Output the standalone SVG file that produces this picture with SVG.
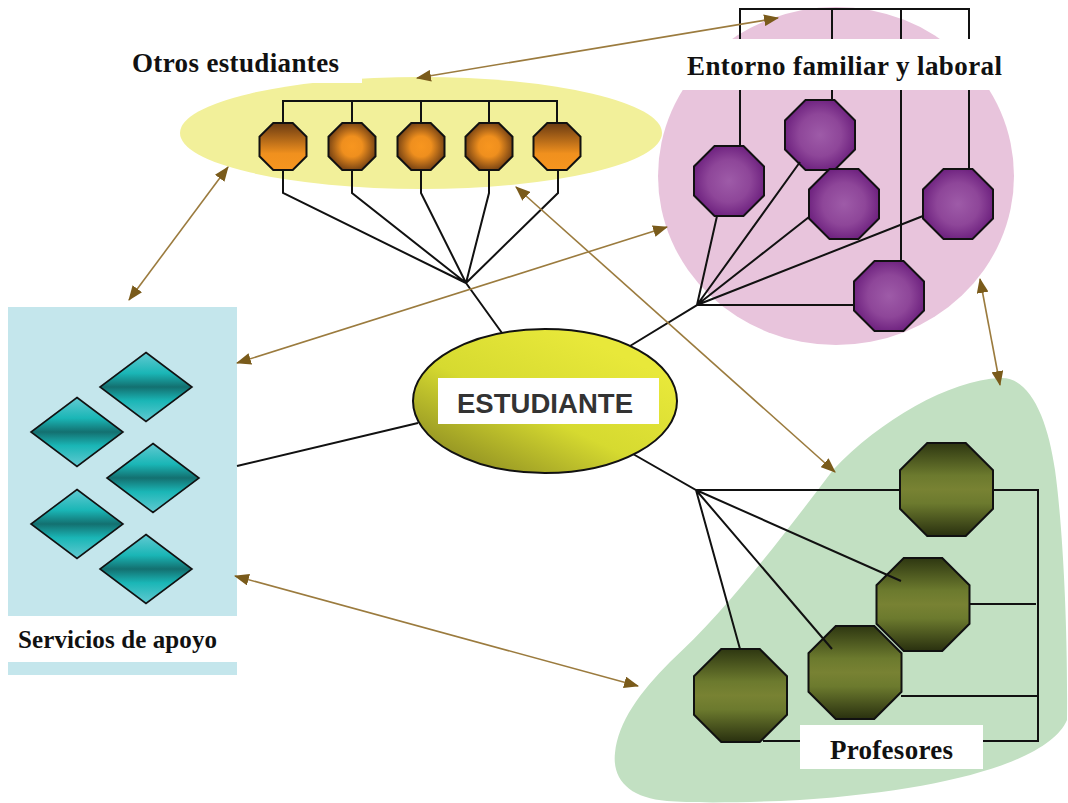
<svg xmlns="http://www.w3.org/2000/svg" xmlns:xlink="http://www.w3.org/1999/xlink" width="1068" height="803" viewBox="0 0 1068 803">
<style>
.lbl{font-family:"Liberation Serif","Times New Roman",serif;font-weight:bold;font-size:27px;fill:#111}
.main{font-family:"Liberation Sans",Arial,sans-serif;font-weight:bold;font-size:27.5px;fill:#333}
.oct{stroke:#111;stroke-width:2}
.dia{stroke:#111;stroke-width:1.6;fill:url(#gDia)}
.wire{fill:none;stroke:#111;stroke-width:2;stroke-linejoin:miter}
.rel{fill:none;stroke:#9b7b3e;stroke-width:1.6;marker-start:url(#ah);marker-end:url(#ah)}
.box{fill:#fff}
</style>
<defs>
<marker id="ah" viewBox="0 0 14 11" refX="13" refY="5.5" markerWidth="15" markerHeight="12" markerUnits="userSpaceOnUse" orient="auto-start-reverse"><path d="M0,0 L14,5.5 L0,11 Z" fill="#7a5b1b"/></marker>
<polygon id="oct47" points="-9.73,-23.5 9.73,-23.5 23.5,-9.73 23.5,9.73 9.73,23.5 -9.73,23.5 -23.5,9.73 -23.5,-9.73"/>
<polygon id="oct70" points="-14.5,-35 14.5,-35 35,-14.5 35,14.5 14.5,35 -14.5,35 -35,14.5 -35,-14.5"/>
<polygon id="oct93" points="-19.26,-46.5 19.26,-46.5 46.5,-19.26 46.5,19.26 19.26,46.5 -19.26,46.5 -46.5,19.26 -46.5,-19.26"/>
<polygon id="dia" points="0,-34.5 46,0 0,34.5 -46,0"/>
<linearGradient id="gOrL" x1="0" y1="0" x2="0" y2="1"><stop offset="0" stop-color="#6a3a12"/><stop offset="0.65" stop-color="#f0901e"/><stop offset="1" stop-color="#f7961f"/></linearGradient>
<radialGradient id="gOrR" cx="0.5" cy="0.5" r="0.55"><stop offset="0" stop-color="#f8961f"/><stop offset="0.4" stop-color="#ef8f1e"/><stop offset="1" stop-color="#6a3a12"/></radialGradient>
<radialGradient id="gPur" cx="0.5" cy="0.5" r="0.55"><stop offset="0" stop-color="#9e5ba8"/><stop offset="0.55" stop-color="#8e4699"/><stop offset="1" stop-color="#6a1d7c"/></radialGradient>
<linearGradient id="gOl" x1="0" y1="0" x2="0" y2="1"><stop offset="0" stop-color="#2e3711"/><stop offset="0.35" stop-color="#6c7a2e"/><stop offset="0.5" stop-color="#788233"/><stop offset="0.65" stop-color="#6c7a2e"/><stop offset="1" stop-color="#29300f"/></linearGradient>
<linearGradient id="gDia" x1="0" y1="0" x2="0" y2="1"><stop offset="0" stop-color="#62cad2"/><stop offset="0.3" stop-color="#1ab6b6"/><stop offset="0.5" stop-color="#137070"/><stop offset="0.7" stop-color="#1ab6b6"/><stop offset="1" stop-color="#62cad2"/></linearGradient>
<linearGradient id="gEst" x1="0" y1="1" x2="0.75" y2="0.15"><stop offset="0" stop-color="#7a781e"/><stop offset="0.55" stop-color="#d6da30"/><stop offset="1" stop-color="#e8e83a"/></linearGradient>
</defs>

<g id="entorno">
<ellipse cx="836" cy="176" rx="178" ry="169" fill="#e8c4dc"/>
<use href="#oct70" x="729" y="181" class="oct" fill="url(#gPur)"/>
<use href="#oct70" x="820" y="135" class="oct" fill="url(#gPur)"/>
<use href="#oct70" x="844" y="204" class="oct" fill="url(#gPur)"/>
<use href="#oct70" x="958" y="204" class="oct" fill="url(#gPur)"/>
<use href="#oct70" x="889" y="296" class="oct" fill="url(#gPur)"/>
<rect class="box" x="675" y="39" width="337" height="51"/>
<text class="lbl" x="687" y="75" textLength="315">Entorno familiar y laboral</text>
</g>

<g id="otros">
<ellipse cx="421" cy="133" rx="241" ry="56" fill="#f2f09a"/>
<use href="#oct47" x="283" y="146.5" class="oct" fill="url(#gOrL)"/>
<use href="#oct47" x="352" y="146.5" class="oct" fill="url(#gOrR)"/>
<use href="#oct47" x="421" y="146.5" class="oct" fill="url(#gOrR)"/>
<use href="#oct47" x="489" y="146.5" class="oct" fill="url(#gOrR)"/>
<use href="#oct47" x="557" y="146.5" class="oct" fill="url(#gOrL)"/>
<rect class="box" x="122" y="42" width="240" height="41"/>
<text class="lbl" x="132" y="72" textLength="207">Otros estudiantes</text>
</g>

<g id="servicios">
<rect x="8" y="307" width="229" height="368" fill="#c4e6ec"/>
<use href="#dia" x="146" y="387" class="dia"/>
<use href="#dia" x="77" y="432" class="dia"/>
<use href="#dia" x="153" y="478" class="dia"/>
<use href="#dia" x="77" y="524" class="dia"/>
<use href="#dia" x="146" y="569" class="dia"/>
<rect class="box" x="8" y="616" width="229" height="46"/>
<text class="lbl" x="18" y="648" style="font-size:25px" textLength="199">Servicios de apoyo</text>
</g>

<g id="profesores">
<path d="M1000,378 C1030,376 1048,420 1055,470 C1062,520 1068,620 1067,720 C1050,760 950,790 800,800 C740,803 690,803 667,801 C630,798 612,780 615,753 C618,722 640,692 670,662 C725,612 780,540 833,470 C880,420 950,380 1000,378 Z" fill="#c2e0c2"/>
<use href="#oct93" x="946.5" y="489.5" class="oct" fill="url(#gOl)"/>
<use href="#oct93" x="923" y="604.5" class="oct" fill="url(#gOl)"/>
<use href="#oct93" x="855" y="672.5" class="oct" fill="url(#gOl)"/>
<use href="#oct93" x="740.5" y="695.5" class="oct" fill="url(#gOl)"/>
<rect class="box" x="800" y="725" width="183" height="44"/>
<text class="lbl" x="830" y="759" textLength="123">Profesores</text>
</g>

<g id="connectors">
<path class="wire" d="M283,123 V101 H557 V123 M352,101 V123 M421,101 V123 M489,101 V123"/>
<path class="wire" d="M283,170 V193 L466,283 M352,170 V193 L466,283 M421,170 V193 L466,283 M489,170 V193 L466,283 M558,170 V193 L466,283 M466,283 L502,333"/>
<path class="wire" d="M740,39 V9 H969 V39 M832,9 V39 M901,9 V39 M740,90 V146 M832,90 V100 M901,90 V261 M969,90 V169"/>
<path class="wire" d="M630,346 L697,305 L717,216 M697,305 L800,162 M697,305 L809,217 M697,305 L923,216 M697,305 H854"/>
<path class="wire" d="M633,454 L696,490 H900 M993,490 H1038 V741 H983 M800,741 H763 M969,604 H1036 M901,696 H1038 M696,490 L740,649 M696,490 L832,649 M696,490 L901,581"/>
<path class="wire" d="M418,423 L237,466"/>
</g>

<g id="estudiante">
<ellipse cx="545" cy="401" rx="132" ry="72" fill="url(#gEst)" stroke="#111" stroke-width="2"/>
<rect class="box" x="438" y="378" width="221" height="46"/>
<text class="main" x="457" y="413" textLength="176">ESTUDIANTE</text>
</g>

<g id="relations">
<line class="rel" x1="417" y1="78" x2="778" y2="18"/>
<line class="rel" x1="228" y1="167" x2="129" y2="300"/>
<line class="rel" x1="237" y1="363" x2="667" y2="227"/>
<line class="rel" x1="516" y1="187" x2="835" y2="472"/>
<line class="rel" x1="980" y1="279" x2="1000" y2="385"/>
<line class="rel" x1="235" y1="576" x2="638" y2="686"/>
</g>
</svg>
